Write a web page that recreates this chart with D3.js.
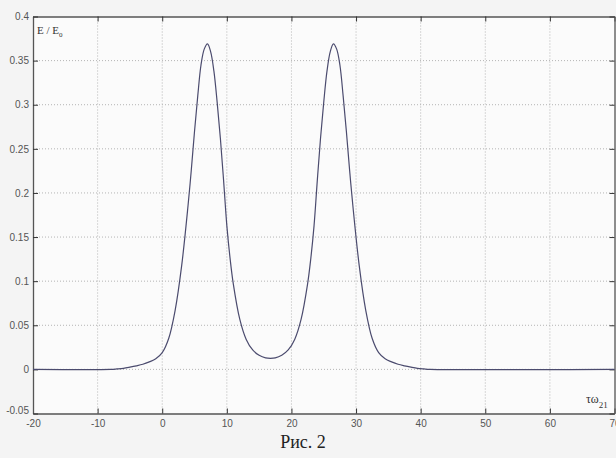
<!DOCTYPE html>
<html>
<head>
<meta charset="utf-8">
<script src="https://cdn.jsdelivr.net/npm/d3@7"></script>
<style>
body { margin: 0; background: #f4f4f4; }
svg { display: block; }
</style>
</head>
<body>
<script>
const WIDTH = 616;
const HEIGHT = 458;

// tau values and E/E0 values
var tau = [-20, -8, -7, -6, -5, -4, -3, -2, -1, 0, 1, 2, 3, 4, 4.5, 5, 5.5, 6, 6.5, 7, 7.5, 8, 8.5, 9, 9.5, 10, 10.5, 11, 12, 13, 14, 15, 16, 16.75,
    17.5, 18.5, 19.5, 20.5, 21.5, 22.5, 23, 23.5, 24, 24.5, 25, 25.5, 26, 26.5, 27, 27.5, 28, 28.5, 29, 29.5, 30.5, 31.5, 32.5, 33.5,
    34.5, 35.5, 36.5, 37.5, 38.5, 39.5, 40.5, 41.5, 70];
var energy = [0, 0, 0.0005, 0.0012, 0.0025, 0.004, 0.0058, 0.0085, 0.012, 0.019, 0.035, 0.067, 0.117, 0.186, 0.226, 0.27, 0.31, 0.345, 0.363, 0.369, 0.36, 0.338, 0.303, 0.262, 0.214, 0.163, 0.126, 0.097, 0.057, 0.034, 0.022, 0.016, 0.013, 0.0125,
    0.013, 0.016, 0.022, 0.034, 0.057, 0.097, 0.126, 0.163, 0.214, 0.262, 0.303, 0.338, 0.36, 0.369, 0.363, 0.345, 0.31, 0.27, 0.226, 0.186, 0.117, 0.067, 0.035, 0.019,
    0.012, 0.0085, 0.0058, 0.004, 0.0025, 0.0012, 0.0005, 0, 0];

var xTicks = [-20, -10, 0, 10, 20, 30, 40, 50, 60, 70];
var yTicks = [-0.05, 0, 0.05, 0.1, 0.15, 0.2, 0.25, 0.3, 0.35, 0.4];
var xTickLabels = ['-20', '-10', '0', '10', '20', '30', '40', '50', '60', '70'];
var yTickLabels = ['-0.05', '0', '0.05', '0.1', '0.15', '0.2', '0.25', '0.3', '0.35', '0.4'];

var pLeft = 33, pRight = 614.5, pTop = 16.5, pBottom = 413.5;

var x = d3.scaleLinear().domain([-20, 70]).range([pLeft, pRight]);
var y = d3.scaleLinear().domain([-0.05, 0.4]).range([pBottom, pTop]);

var svg = d3.select('body')
    .append('svg')
    .attr('width', WIDTH)
    .attr('height', HEIGHT);

svg.append('rect')
    .attr('x', 0).attr('y', 0)
    .attr('width', WIDTH).attr('height', HEIGHT)
    .attr('fill', '#f4f4f4');

svg.append('rect')
    .attr('x', pLeft).attr('y', pTop)
    .attr('width', pRight - pLeft).attr('height', pBottom - pTop)
    .attr('fill', '#fbfbfb');

// dotted grid
svg.append('g')
    .selectAll('line')
    .data(xTicks.slice(1, -1))
    .enter()
    .append('line')
    .attr('x1', function(d) { return x(d); })
    .attr('x2', function(d) { return x(d); })
    .attr('y1', pTop).attr('y2', pBottom)
    .attr('stroke', '#b4b4b4')
    .attr('stroke-dasharray', '1,2');

svg.append('g')
    .selectAll('line')
    .data(yTicks.slice(1, -1))
    .enter()
    .append('line')
    .attr('x1', pLeft).attr('x2', pRight)
    .attr('y1', function(d) { return y(d); })
    .attr('y2', function(d) { return y(d); })
    .attr('stroke', '#b4b4b4')
    .attr('stroke-dasharray', '1,2');

// axes with inward ticks
var gx = svg.append('g')
    .attr('transform', 'translate(0,' + pBottom + ')')
    .call(d3.axisBottom(x).tickValues(xTicks).tickSizeInner(-5).tickSizeOuter(0).tickPadding(4)
        .tickFormat(function(d, i) { return xTickLabels[i]; }));
var gxTop = svg.append('g')
    .attr('transform', 'translate(0,' + pTop + ')')
    .call(d3.axisTop(x).tickValues(xTicks).tickSizeInner(-5).tickSizeOuter(0).tickFormat(''));
var gy = svg.append('g')
    .attr('transform', 'translate(' + pLeft + ',0)')
    .call(d3.axisLeft(y).tickValues(yTicks).tickSizeInner(-5).tickSizeOuter(0).tickPadding(4)
        .tickFormat(function(d, i) { return yTickLabels[i]; }));
var gyRight = svg.append('g')
    .attr('transform', 'translate(' + pRight + ',0)')
    .call(d3.axisRight(y).tickValues(yTicks).tickSizeInner(-5).tickSizeOuter(0).tickFormat(''));

[gx, gxTop, gy, gyRight].forEach(function(g) {
    g.selectAll('.domain').attr('stroke', '#555').attr('stroke-width', 1.3);
    g.selectAll('.tick line').attr('stroke', '#333');
    g.selectAll('text')
        .attr('fill', '#555')
        .attr('font-family', 'Liberation Sans, Arial, sans-serif')
        .attr('font-size', '10px');
});
gx.selectAll('.tick text').attr('dy', '0.9em');
gy.selectAll('.tick text').filter(function(d) { return d === -0.05; }).attr('dy', '0');

// the curve
var line = d3.line()
    .x(function(d, i) { return x(tau[i]); })
    .y(function(d) { return y(d); })
    .curve(d3.curveCatmullRom.alpha(0.5));

svg.append('path')
    .datum(energy)
    .attr('d', line)
    .attr('fill', 'none')
    .attr('stroke', '#4b4b6e')
    .attr('stroke-width', 1.2);

// labels
var lab = svg.append('text')
    .attr('x', 37).attr('y', 34)
    .attr('font-family', 'Liberation Serif, serif')
    .attr('font-size', '11px')
    .attr('fill', '#333');
lab.append('tspan').text('E / E');
lab.append('tspan').attr('font-size', '7px').attr('dy', 3).text('0');

var tl = svg.append('text')
    .attr('x', 586).attr('y', 403)
    .attr('font-family', 'Liberation Serif, serif')
    .attr('font-size', '12px')
    .attr('fill', '#333');
tl.append('tspan').text('τω');
tl.append('tspan').attr('font-size', '9px').attr('dy', 5).text('21');

svg.append('text')
    .attr('x', 303).attr('y', 448)
    .attr('text-anchor', 'middle')
    .attr('font-family', 'Liberation Serif, serif')
    .attr('font-size', '18px')
    .attr('fill', '#222')
    .text('Рис. 2');
</script>
</body>
</html>
